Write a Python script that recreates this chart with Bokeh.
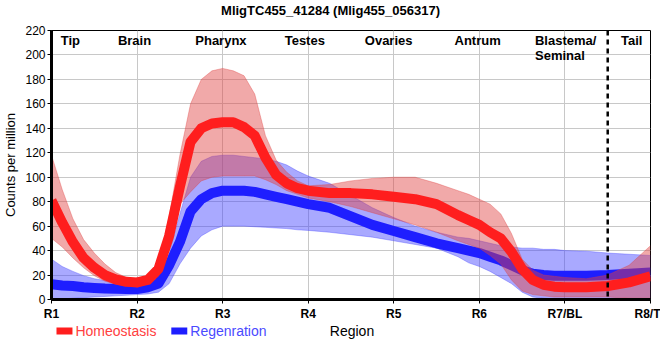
from bokeh.plotting import figure
from bokeh.models import Span
from bokeh.layouts import column
from bokeh.embed import file_html
from bokeh.resources import INLINE
from bokeh.core.properties import value

# ---- data ----
x = [1, 1.125, 1.25, 1.375, 1.5, 1.625, 1.75, 1.875, 2, 2.125, 2.25, 2.375, 2.5,
     2.625, 2.75, 2.875, 3, 3.125, 3.25, 3.375, 3.5, 3.625, 3.75, 3.875, 4,
     4.25, 4.5, 4.75, 5, 5.25, 5.5, 5.75, 5.875, 6, 6.125, 6.25, 6.375, 6.5,
     6.625, 6.75, 6.875, 7, 7.25, 7.5, 7.75, 8]

homeo_mean = [81, 63, 47, 34, 26, 20, 16.5, 14.5, 14, 16, 25, 52, 92,
              129, 140, 144, 145, 145, 141, 134, 116, 102, 95, 91, 89,
              87, 87, 86, 84, 82, 78, 69, 65, 61, 55, 50, 39, 25,
              16, 12, 10.5, 10, 10, 11, 14, 19]
homeo_upper = [118, 90, 66, 49, 38, 29, 22, 18, 17, 19, 30, 68, 118,
               160, 180, 187, 189, 187, 183, 168, 134, 114, 104, 97, 93,
               94, 97, 99, 100, 100, 95, 89, 86, 82, 78, 70, 54, 33,
               24, 20, 19, 18, 17, 20, 28, 44]
homeo_lower = [50, 43, 34, 26, 19.5, 15, 12.5, 11, 10, 13, 19, 40, 78,
               88, 97, 100, 101, 101, 101, 101, 98, 94, 89, 86, 83,
               80, 76, 71, 66, 61, 55, 48, 45, 42, 36, 29, 16, 7,
               4, 3, 2, 2, 2, 2, 1, 1]

regen_mean = [12.5, 11.5, 11, 10, 9.5, 9, 8.7, 8.5, 8.5, 10, 13, 28, 47,
              72, 82, 87, 89, 89, 89, 88, 86, 84, 82, 80, 78,
              75, 68, 61, 56, 51, 46, 42, 40, 38, 35, 32, 28, 24,
              21, 20, 19.5, 19.5, 19.5, 20, 21, 22]
regen_upper = [33, 27, 23, 19.5, 17, 15.5, 14.5, 14, 14, 14, 18, 38, 70,
               100, 113, 117, 118, 118, 117, 116, 115, 113, 110, 105, 101,
               95, 85, 75, 67, 60, 55, 51, 50, 48, 46, 44, 43, 42,
               42, 41, 41, 40, 39.5, 38, 37, 36]
regen_lower = [0, 0.5, 1, 1.5, 2, 2.5, 3, 3.5, 4, 4.5, 6, 13, 29,
               42, 52, 57, 60, 60, 60, 59.5, 59, 58.5, 58, 57, 56.5,
               55, 53, 51, 48, 45, 42, 35, 30, 27, 23, 18, 13, 6,
               2, 1, 0.5, 0, 0, 0, 0, 0]

tick_pos = [1, 2, 3, 4, 5, 6, 7, 8]
tick_labels = ["R1", "R2", "R3", "R4", "R5", "R6", "R7/BL", "R8/T"]
y_ticks = [0, 20, 40, 60, 80, 100, 120, 140, 160, 180, 200, 220]

region_names = ["Tip", "Brain", "Pharynx", "Testes", "Ovaries", "Antrum", "Tail"]
region_x = [1.22, 1.97, 2.98, 3.96, 4.94, 5.98, 7.78]
blastema_lines = ["Blastema/", "Seminal"]
blastema_x = 6.65
divider_x = 7.5

series_names = ["Homeostasis", "Regenration"]
chart_title = "MligTC455_41284 (Mlig455_056317)"

FONT = "Liberation Sans"
RED = "#ff1e1e"
BLUE = "#1e1eff"

# ---- top strip: chart title (x in page pixels) ----
p0 = figure(width=660, height=20, output_backend="svg", toolbar_location=None,
            x_range=(50, 650), y_range=(20, 0), x_axis_type=None, y_axis_type=None,
            min_border_left=50, min_border_right=10, min_border_top=0,
            min_border_bottom=0, outline_line_color=None)
p0.grid.visible = False
p0.text(x=[329.5], y=[9.5], text=[chart_title], text_font=value(FONT),
        text_font_size="13px", text_font_style="bold", text_align="center",
        text_baseline="middle", text_color="black")

# ---- main plot ----
p = figure(width=660, height=303, output_backend="svg",
           toolbar_location=None, x_range=(1, 8), y_range=(0, 220),
           min_border_left=50, min_border_right=10, min_border_top=10,
           min_border_bottom=24)

# bands and lines
p.varea(x=x, y1=regen_lower, y2=regen_upper, fill_color="#4040ff", fill_alpha=0.45)
p.line(x, regen_upper, color="#4040ff", alpha=0.35, line_width=1)
p.line(x, regen_lower, color="#4040ff", alpha=0.35, line_width=1)
p.line(x, regen_mean, color=BLUE, line_width=10, line_join="round")

p.varea(x=x, y1=homeo_lower, y2=homeo_upper, fill_color="#e04040", fill_alpha=0.45)
p.line(x, homeo_upper, color="#e04040", alpha=0.35, line_width=1)
p.line(x, homeo_lower, color="#e04040", alpha=0.35, line_width=1)
p.line(x, homeo_mean, color=RED, line_width=10, line_join="round")

p.add_layout(Span(location=divider_x, dimension="height", line_color="black",
                  line_width=2.5, line_dash="5 4"))

# region labels
p.text(x=region_x, y=[218] * len(region_x), text=region_names,
       text_font=value(FONT), text_font_size="13px", text_font_style="bold",
       text_align="center", text_baseline="top", text_color="black")
p.text(x=[blastema_x, blastema_x], y=[218, 206], text=blastema_lines,
       text_font=value(FONT), text_font_size="13px", text_font_style="bold",
       text_align="left", text_baseline="top", text_color="black")

# axes
p.xaxis.ticker = tick_pos
p.xaxis.major_label_overrides = {t: l for t, l in zip(tick_pos, tick_labels)}
p.yaxis.ticker = y_ticks
p.yaxis.axis_label = "Counts per million"
for ax in (p.xaxis, p.yaxis):
    ax.axis_line_width = 3
    ax.axis_line_color = "black"
    ax.major_tick_in = 0
    ax.major_tick_out = 4
    ax.major_tick_line_color = "black"
    ax.minor_tick_line_color = None
    ax.major_label_text_font = FONT
    ax.major_label_text_font_size = "12px"
    ax.major_label_text_color = "black"
    ax.axis_label_text_font = FONT
    ax.axis_label_text_font_size = "13px"
    ax.axis_label_text_font_style = "normal"
    ax.axis_label_text_color = "black"
p.xaxis.major_label_text_font_style = "bold"
p.yaxis.axis_label_standoff = 4
p.yaxis.major_label_standoff = 2
p.xaxis.major_label_standoff = 3

p.grid.grid_line_color = "#c8c8c8"
p.grid.grid_line_width = 1
p.outline_line_color = "black"
p.outline_line_width = 1
p.outline_line_alpha = 1

# ---- bottom strip: legend + x-axis title (x in page pixels) ----
p2 = figure(width=660, height=30, output_backend="svg", toolbar_location=None,
            x_range=(50, 650), y_range=(30, 0), x_axis_type=None, y_axis_type=None,
            min_border_left=50, min_border_right=10, min_border_top=0,
            min_border_bottom=0, outline_line_color=None)
p2.grid.visible = False

legend_colors = [RED, BLUE]
legend_text_colors = ["#ff4040", "#4a4aff"]
swatch_left = [55, 170]
p2.quad(left=swatch_left, right=[s + 16 for s in swatch_left],
        top=[4, 4], bottom=[11, 11], color=legend_colors, line_width=0)
p2.text(x=[s + 19 for s in swatch_left], y=[7.5, 7.5], text=series_names,
        text_color=legend_text_colors, text_font=value(FONT),
        text_font_size="14px", text_align="left", text_baseline="middle")
p2.text(x=[351], y=[7], text=["Region"], text_font=value(FONT),
        text_font_size="14px", text_align="center", text_baseline="middle",
        text_color="black")

layout = column(p0, p, p2, spacing=0)
open("out.html", "w").write(file_html(layout, INLINE))
